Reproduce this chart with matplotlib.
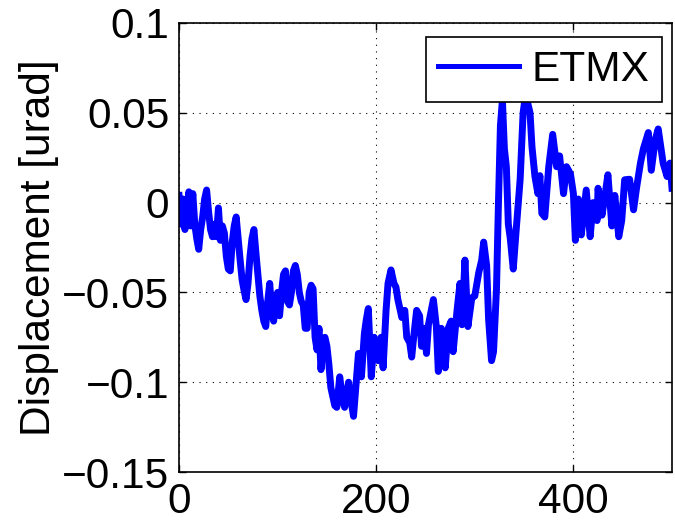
import numpy as np
import matplotlib
matplotlib.use('Agg')
import matplotlib.pyplot as plt

plt.rcParams['font.family'] = ['Liberation Sans', 'DejaVu Sans']

# time samples and displacement (urad)
time_s = [0, 2, 4, 6, 8, 10, 12, 14, 16, 18, 20, 22, 24, 26, 28, 30, 32, 34, 36, 38,
          40, 42, 44, 46, 48, 50, 52, 54, 56, 58, 60, 62, 64, 66, 68, 70, 72, 74, 76, 78,
          80, 82, 84, 86, 88, 90, 92, 94, 96, 98, 100, 102, 104, 106, 108, 110, 112, 114,
          116, 118, 120, 122, 124, 126, 128, 130, 132, 134, 136, 138, 140, 142, 144, 146,
          148, 150, 152, 154, 156, 158, 160, 163, 166, 168, 172, 175, 177, 179, 182, 185,
          188, 190, 192, 195, 198, 202, 205, 207, 210, 212, 215, 218, 220, 222, 226, 229,
          231, 234, 236, 238, 241, 244, 246, 249, 251, 253, 258, 261, 263, 266, 270, 273,
          276, 278, 282, 285, 287, 290, 293, 297, 300, 304, 307, 309, 312, 314, 317, 319,
          322, 324, 326, 328, 330, 332, 334, 336, 339, 342, 346, 349, 351, 353, 356, 358,
          361, 364, 366, 368, 371, 375, 379, 383, 386, 390, 393, 397, 400, 402, 405, 408,
          413, 417, 420, 424, 425, 429, 432, 435, 439, 442, 446, 449, 452, 457, 461, 464,
          468, 471, 476, 479, 483, 486, 491, 495, 498, 500]
etmx = [0.004, -0.012, 0.002, -0.015, -0.005, 0.006, -0.013, 0.005, -0.012, -0.02,
        -0.026, -0.015, -0.008, 0.002, 0.007, -0.005, -0.015, -0.019, -0.012, -0.019,
        -0.003, -0.021, -0.013, -0.017, -0.03, -0.037, -0.038, -0.022, -0.013, -0.008,
        -0.02, -0.032, -0.043, -0.049, -0.054, -0.045, -0.03, -0.02, -0.015, -0.028,
        -0.04, -0.052, -0.06, -0.066, -0.069, -0.055, -0.045, -0.06, -0.066, -0.055,
        -0.05, -0.063, -0.05, -0.04, -0.038, -0.055, -0.057, -0.05, -0.038, -0.035,
        -0.04, -0.05, -0.055, -0.057, -0.07, -0.07, -0.05, -0.046, -0.048, -0.075,
        -0.082, -0.07, -0.093, -0.078, -0.075, -0.08, -0.09, -0.103, -0.108, -0.113,
        -0.114, -0.097, -0.11, -0.114, -0.1, -0.112, -0.119, -0.105, -0.084, -0.097,
        -0.073, -0.065, -0.059, -0.097, -0.075, -0.088, -0.075, -0.092, -0.06, -0.045,
        -0.0375, -0.045, -0.047, -0.054, -0.064, -0.06, -0.075, -0.078, -0.086, -0.075,
        -0.06, -0.063, -0.08, -0.07, -0.084, -0.068, -0.054, -0.069, -0.094, -0.07,
        -0.092, -0.07, -0.066, -0.083, -0.06, -0.045, -0.068, -0.032, -0.069, -0.053,
        -0.052, -0.039, -0.032, -0.022, -0.035, -0.065, -0.088, -0.083, -0.048, 0.0,
        0.043, 0.057, 0.03, 0.02, -0.012, -0.02, -0.037, -0.015, 0.013, 0.05,
        0.058, 0.057, 0.05, 0.031, 0.0145, 0.005, 0.015, -0.006, -0.008, 0.02,
        0.038, 0.02, 0.026, 0.005, 0.02, 0.016, 0.005, -0.021, 0.002, -0.018,
        0.007, -0.019, 0.0, -0.01, 0.008, -0.007, 0.004, 0.0155, -0.013, 0.004,
        -0.019, -0.01, 0.0127, 0.013, -0.004, 0.008, 0.022, 0.03, 0.039, 0.018,
        0.035, 0.041, 0.022, 0.0145, 0.022, 0.008]

x_ticks = [0, 200, 400]
y_ticks = [-0.15, -0.1, -0.05, 0, 0.05, 0.1]
y_labels = ['\u22120.15', '\u22120.1', '\u22120.05', '0', '0.05', '0.1']

fig = plt.figure(figsize=(6.75, 5.29), dpi=100)
ax = fig.add_axes([179 / 675, 57 / 529, 493 / 675, 449 / 529])

line, = ax.plot(time_s, etmx, color=(0, 0, 1), lw=5.0, label='ETMX',
                solid_joinstyle='round')

ax.set_xlim(0, 500)
ax.set_ylim(-0.15, 0.1)
ax.set_xticks(x_ticks)
ax.set_yticks(y_ticks)
ax.set_yticklabels(y_labels)
ax.tick_params(direction='in', top=True, right=True, labelsize=30.5, length=5, width=1, pad=7)
ax.set_ylabel('Displacement [urad]', fontsize=30.5, labelpad=2)
ax.grid(True, color='black', linestyle=(0, (1, 5)), linewidth=0.8)
for s in ax.spines.values():
    s.set_linewidth(1.2)

leg = ax.legend(loc='upper right', bbox_to_anchor=(662 / 675, 492 / 529),
                bbox_transform=fig.transFigure, borderaxespad=0, fontsize=30.5,
                fancybox=False, framealpha=1, edgecolor='black', handlelength=1.9,
                handletextpad=0.3, borderpad=0.3)
leg.get_frame().set_linewidth(1.2)
leg.get_lines()[0].set_linewidth(3.6)

fig.savefig('out.png', dpi=100)
